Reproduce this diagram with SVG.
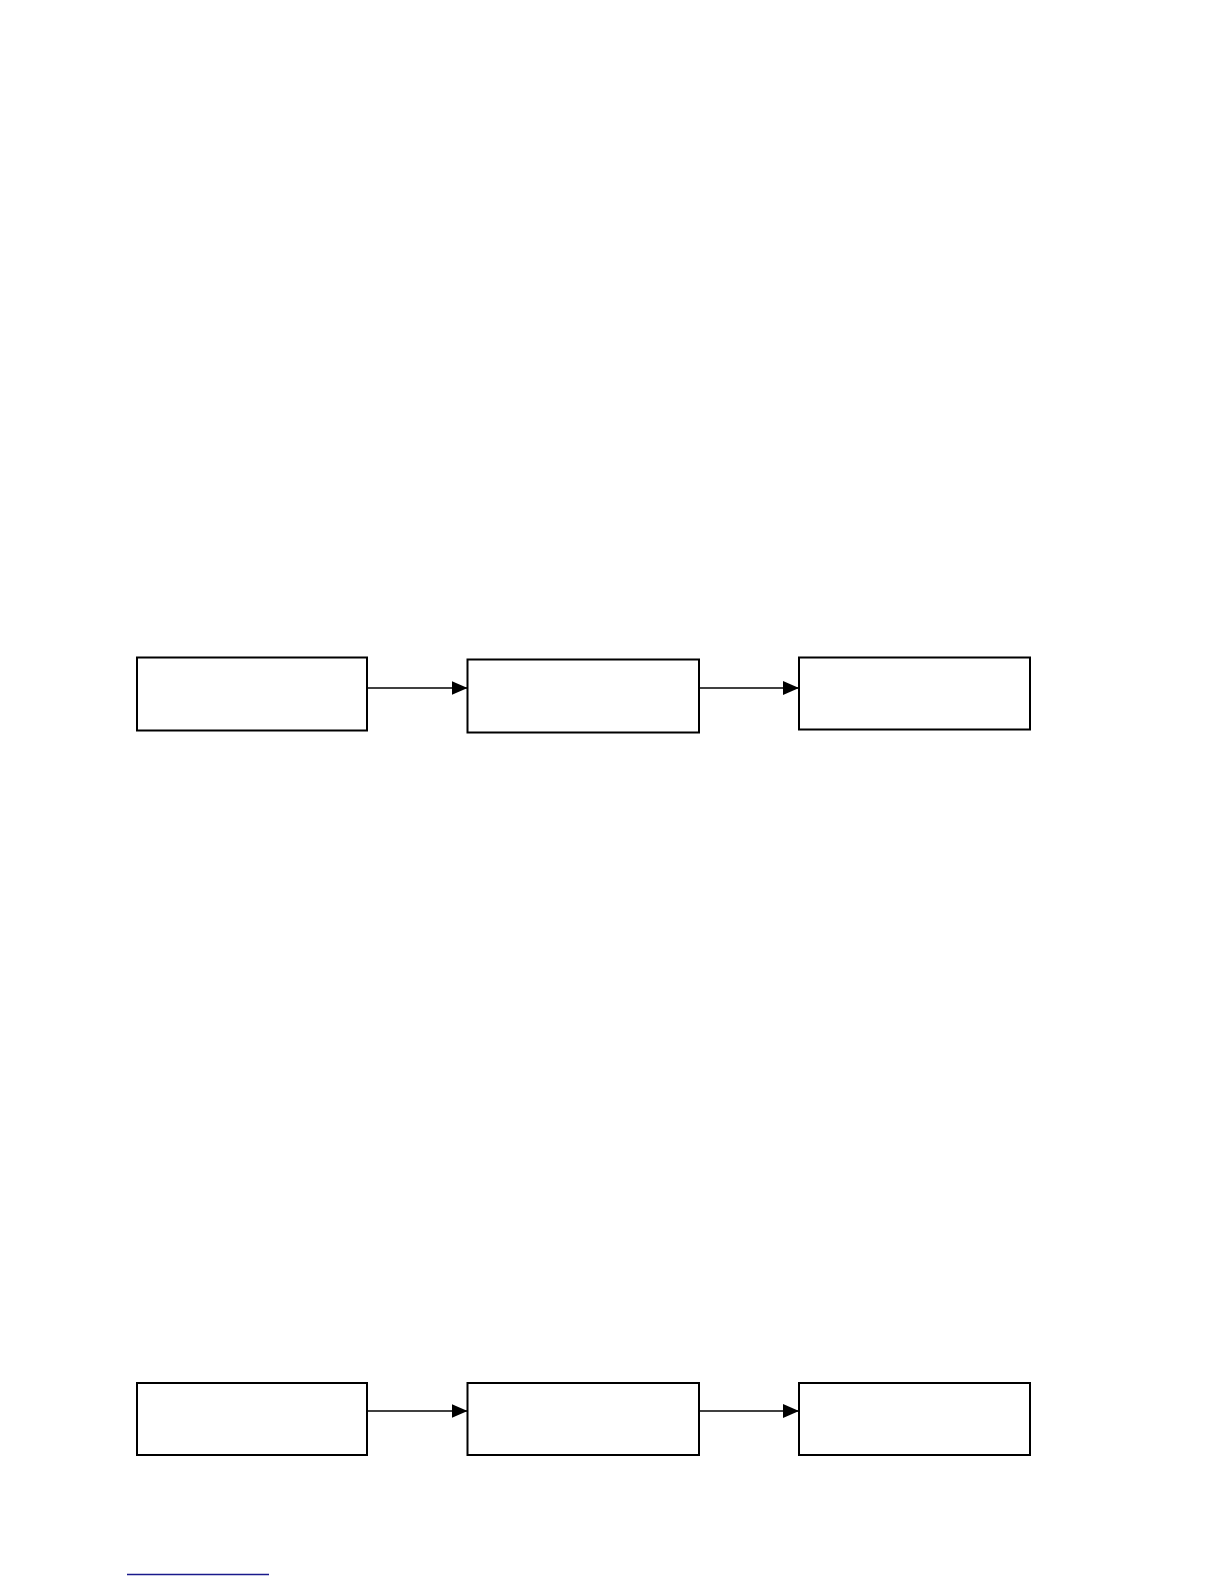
<svg xmlns="http://www.w3.org/2000/svg" width="1224" height="1584" viewBox="0 0 1224 1584">
<style>
.box{fill:#fff;stroke:#000;stroke-width:2}
.conn{stroke:#000;stroke-width:1.3;fill:none}
</style>
<defs>
<marker id="arr" markerUnits="userSpaceOnUse" markerWidth="16" markerHeight="14" refX="16" refY="7" orient="auto">
<path d="M0,0 L16,7 L0,14 Z" fill="#000"/>
</marker>
</defs>
<rect width="1224" height="1584" fill="#fff"/>
<g id="n1"><rect class="box" x="137" y="657.5" width="230" height="73"/></g>
<g id="n2"><rect class="box" x="467.5" y="659.5" width="231.5" height="73"/></g>
<g id="n3"><rect class="box" x="799" y="657.5" width="231" height="72"/></g>
<g id="n4"><rect class="box" x="137" y="1383" width="230" height="72"/></g>
<g id="n5"><rect class="box" x="467.5" y="1383" width="231.5" height="72"/></g>
<g id="n6"><rect class="box" x="799" y="1383" width="231" height="72"/></g>
<g id="connectors">
<line class="conn" x1="367" y1="688" x2="467.5" y2="688" marker-end="url(#arr)"/>
<line class="conn" x1="699" y1="688" x2="799" y2="688" marker-end="url(#arr)"/>
<line class="conn" x1="367" y1="1411" x2="467.5" y2="1411" marker-end="url(#arr)"/>
<line class="conn" x1="699" y1="1411" x2="799" y2="1411" marker-end="url(#arr)"/>
</g>
<line x1="127" y1="1574.5" x2="269" y2="1574.5" stroke="#1a1a8c" stroke-width="1.5"/>
</svg>
